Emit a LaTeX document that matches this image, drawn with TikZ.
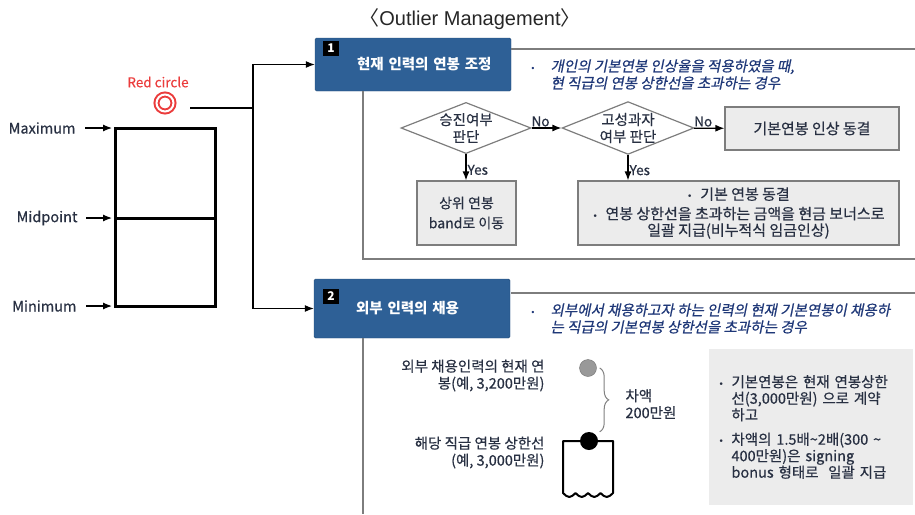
\documentclass[tikz,border=0pt]{standalone}
\usepackage{fontspec}
\setmainfont{Noto Sans CJK KR}
\newfontfamily\krmed[FakeBold=0.5]{Noto Sans CJK KR}
\newfontfamily\krit[FakeSlant=0.2,FakeBold=0.6]{Noto Sans CJK KR}
\newfontfamily\titlefont{Liberation Sans}
\newfontfamily\symfont{DejaVu Sans}
\usetikzlibrary{arrows.meta,shapes.geometric,decorations.pathreplacing}

\definecolor{boxblue}{RGB}{46,96,150}
\definecolor{framegray}{RGB}{125,125,125}
\definecolor{boxfill}{RGB}{236,236,236}
\definecolor{noteblue}{RGB}{31,56,120}
\definecolor{inkdark}{RGB}{40,48,66}
\definecolor{markred}{RGB}{235,60,60}

\newcommand{\bul}{\makebox[13pt][l]{\symfont\fontsize{9}{9}\selectfont•}}
\newcommand{\ind}{\hspace*{13pt}}

\tikzset{
arr/.style={-{Latex[length=9pt,width=7pt]},line width=1.2pt},
numbox/.style={fill=boxblue,draw=boxblue!80!black,rounded corners=1.5pt,minimum width=196pt,text width=188pt,align=left,text=white,font=\bfseries\fontsize{14.5}{16}\selectfont},
badge/.style={fill=black,text=white,font=\bfseries\fontsize{12}{12}\selectfont,minimum width=16pt,minimum height=15pt,inner sep=0pt},
decision/.style={diamond,draw=framegray,line width=1.2pt,aspect=2.5,inner sep=0pt,minimum width=130pt,minimum height=50pt,align=center,font=\krmed\fontsize{14.5}{17}\selectfont,text=inkdark},
greybox/.style={rectangle,draw=framegray,fill=boxfill,line width=1.2pt,align=center,font=\krmed\fontsize{14}{20}\selectfont,text=inkdark},
frameline/.style={draw=framegray,line width=1.4pt},
bandlab/.style={anchor=east,font=\krmed\fontsize{14.5}{16}\selectfont,text=inkdark},
note/.style={anchor=west,align=left,font=\krit\fontsize{14.5}{17}\selectfont,text=noteblue},
plain/.style={font=\krmed\fontsize{14.5}{17}\selectfont,text=inkdark},
flowlab/.style={font=\krmed\fontsize{13.5}{15}\selectfont,text=inkdark,inner sep=1pt}
}

\begin{document}
\begin{tikzpicture}[x=1pt,y=-1pt]
\useasboundingbox (0,0) rectangle (915,514);

\node[font=\titlefont\fontsize{20}{22}\selectfont,text=black!85] (title) at (470,19) {{\rmfamily 〈}Outlier Management{\rmfamily 〉}};

\draw[line width=3pt] (115,128) rectangle (215,306);
\draw[line width=3pt] (115,218) -- (215,218);
\coordinate (barmax) at (112,128);
\coordinate (barmid) at (112,218);
\coordinate (barmin) at (112,306);
\node[bandlab] (maxlab) at (79,128) {Maximum};
\node[bandlab] (midlab) at (81,218) {Midpoint};
\node[bandlab] (minlab) at (80,306) {Minimum};
\draw[arr,shorten <=6pt] (maxlab) -- (barmax);
\draw[arr,shorten <=5pt] (midlab) -- (barmid);
\draw[arr,shorten <=6pt] (minlab) -- (barmin);

\node[text=markred,font=\krmed\fontsize{13.5}{15}\selectfont] (redlab) at (158,82) {Red circle};
\node[circle,draw=markred,double=white,double distance=2pt,line width=2pt,minimum size=17pt,inner sep=0pt] (redc) at (165,103) {};

\node[numbox,minimum height=53pt] (box1) at (413,64.5) {\hspace*{38pt}현재 인력의 연봉 조정};
\node[badge] (num1) at (331,48) {1};
\node[numbox,minimum height=59pt] (box2) at (412,308.5) {\hspace*{38pt}외부 인력의 채용};
\node[badge] (num2) at (331,296) {2};

\coordinate (redtail) at (190,108);
\coordinate (fork) at (253,108);
\draw[line width=1.3pt] (redtail) -- (fork);
\draw[arr] (fork) |- (box1.west);
\draw[arr] (fork) |- (box2.west);

\draw[frameline] (511,49) -- (915,49);
\draw[frameline] (363,91) -- (363,259) -- (915,259);
\draw[frameline] (511,293) -- (915,293);
\draw[frameline] (363,338) -- (363,514);

\node[note] (note1) at (527,74.5) {\makebox[20pt][l]{\symfont\fontsize{8}{8}\selectfont•}개인의 기본연봉 인상율을 적용하였을 때,\\\hspace*{20pt}현 직급의 연봉 상한선을 초과하는 경우};
\node[note] (note2) at (527,318.5) {\makebox[20pt][l]{\symfont\fontsize{8}{8}\selectfont•}외부에서 채용하고자 하는 인력의 현재 기본연봉이 채용하\\\hspace*{20pt}는 직급의 기본연봉 상한선을 초과하는 경우};

\node[decision] (promo) at (466,128) {승진여부\\판단};
\node[decision] (perf) at (628,128) {고성과자\\여부 판단};
\node[greybox,minimum width=174pt,minimum height=43pt,font=\krmed\fontsize{15}{20}\selectfont] (freeze) at (812,128.5) {기본연봉 인상 동결};
\node[greybox,minimum width=99pt,minimum height=64pt] (upband) at (466.5,213) {상위 연봉\\band로 이동};
\node[greybox,minimum width=321pt,minimum height=64pt,font=\krmed\fontsize{15}{16.5}\selectfont] (bonus) at (738.5,213) {\bul 기본 연봉 동결\\[3pt]\bul 연봉 상한선을 초과하는 금액을 현금 보너스로\\일괄 지급(비누적식 임금인상)};

\draw[arr] (promo) -- node[flowlab,above,pos=0.3] {No} (perf);
\draw[arr] (perf) -- node[flowlab,above,pos=0.3] {No} (freeze);
\draw[arr] (promo) -- node[flowlab,right,pos=0.6] {Yes} (promo |- upband.north);
\draw[arr] (perf) -- node[flowlab,right,pos=0.6] {Yes} (perf |- bonus.north);

\node[plain,anchor=east,align=right] (extlab) at (548,375.5) {외부 채용인력의 현재 연\\봉(예, 3,200만원)};
\node[plain,anchor=east,align=right] (caplab) at (548,452.5) {해당 직급 연봉 상한선\\(예, 3,000만원)};
\draw[line width=2pt,line join=round] (563,441) -- (613,441) -- (613,493) sin (606.75,497) cos (600.5,493) sin (594.25,497) cos (588,493) sin (581.75,497) cos (575.5,493) sin (569.25,497) cos (563,493) -- cycle;
\node[circle,fill=black!40,draw=black!55,minimum size=17pt,inner sep=0pt] (extdot) at (588,368) {};
\node[circle,fill=black,minimum size=18pt,inner sep=0pt] (capdot) at (589,441) {};
\draw[black!50,line width=1pt,decorate,decoration={brace,amplitude=9pt}] ([xshift=3pt]extdot.east) -- ([xshift=3pt]extdot.east |- capdot.north);
\node[plain,anchor=west,align=left] (difflab) at (622,404) {차액\\200만원};

\node[greybox,draw=none,minimum width=204pt,minimum height=156pt,text width=184pt,align=left,font=\krmed\fontsize{14.5}{16.5}\selectfont] (advice) at (810.5,427) {\bul 기본연봉은 현재 연봉상한\\\ind 선(3,000만원) 으로 계약\\\ind 하고\\[8pt]\bul 차액의 1.5배\textasciitilde 2배(300 \textasciitilde\\\ind 400만원)은 signing\\\ind bonus 형태로\ \ 일괄 지급};
\end{tikzpicture}
\end{document}
